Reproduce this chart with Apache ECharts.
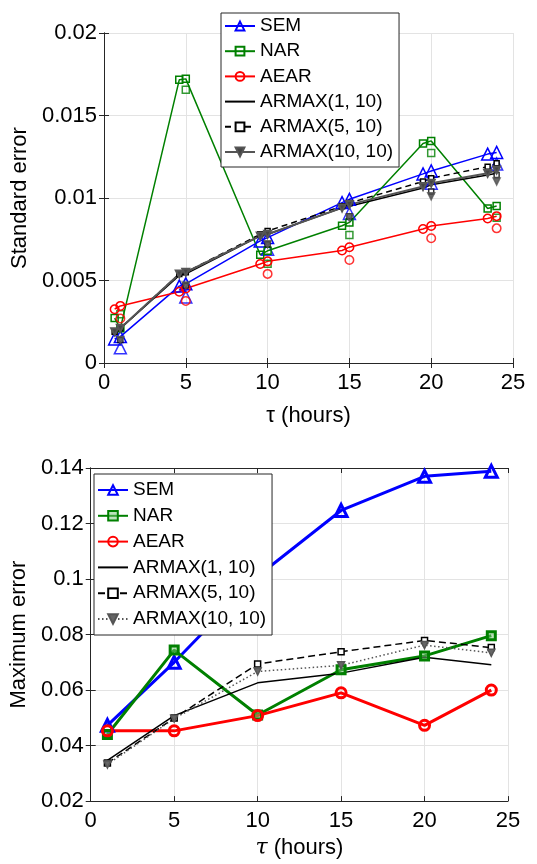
<!DOCTYPE html>
<html>
<head>
<meta charset="utf-8">
<script src="https://cdn.jsdelivr.net/npm/echarts@6/dist/echarts.min.js"></script>
<style>
html,body{margin:0;padding:0;background:#fff;}
#top{position:absolute;left:0;top:0;width:537px;height:432px;}
#bot{position:absolute;left:0;top:432px;width:537px;height:432px;}
</style>
</head>
<body>
<div id="top"></div>
<div id="bot"></div>
<script>
// ---------- DATA ----------
const seriesNames = ['SEM', 'NAR', 'AEAR', 'ARMAX(1, 10)', 'ARMAX(5, 10)', 'ARMAX(10, 10)'];

// Top chart: standard error
const topLineX  = [0.65, 1, 4.6, 5, 9.55, 10, 14.55, 15, 19.5, 20, 23.45, 24];
const topExtraX = [1, 5, 10, 15, 20, 24];
const topSEM      = [0.00146, 0.0016, 0.00466, 0.0048, 0.0074, 0.0076, 0.00972, 0.00992, 0.01146, 0.01164, 0.01266, 0.01276];
const topSEMx     = [0.00092, 0.0040, 0.0069, 0.00906, 0.0109, 0.01206];
const topNAR      = [0.00272, 0.0021, 0.01716, 0.01722, 0.00656, 0.0068, 0.00832, 0.00852, 0.0133, 0.01346, 0.00936, 0.00952];
const topNARx     = [0.00296, 0.01656, 0.00602, 0.00776, 0.01272, 0.0088];
const topAEAR     = [0.00326, 0.00346, 0.00432, 0.00452, 0.0060, 0.00616, 0.00682, 0.00702, 0.00812, 0.0083, 0.00876, 0.0089];
const topAEARx    = [0.0027, 0.00376, 0.0054, 0.00624, 0.00756, 0.00816];
const topARMAX1   = [0.0019, 0.0021, 0.0053, 0.0054, 0.0077, 0.0078, 0.0094, 0.0095, 0.0106, 0.0108, 0.0114, 0.0115];
const topARMAX5   = [0.0019, 0.0021, 0.0054, 0.0055, 0.0078, 0.0080, 0.0095, 0.0097, 0.0110, 0.0112, 0.0119, 0.0121];
const topARMAX5x  = [0.0014, 0.0047, 0.0072, 0.0089, 0.0104, 0.0114];
const topARMAX10  = [0.0019, 0.0021, 0.0054, 0.0055, 0.0077, 0.0078, 0.0094, 0.0096, 0.0107, 0.0109, 0.0115, 0.0117];
const topARMAX10x = [0.0014, 0.0047, 0.0072, 0.0088, 0.0101, 0.0110];
const topXTicks = [0, 5, 10, 15, 20, 25];
const topYTicks = [0, 0.005, 0.01, 0.015, 0.02];

// Bottom chart: maximum error
const botX = [1, 5, 10, 15, 20, 24];
const botSEM     = [0.0473, 0.0700, 0.1010, 0.1247, 0.1370, 0.1388];
const botNAR     = [0.0440, 0.0744, 0.0510, 0.0673, 0.0723, 0.0796];
const botAEAR    = [0.0453, 0.0453, 0.0508, 0.0590, 0.0473, 0.0600];
const botARMAX1  = [0.0347, 0.0508, 0.0626, 0.0661, 0.0718, 0.0691];
const botARMAX5  = [0.0337, 0.0499, 0.0694, 0.0738, 0.0779, 0.0753];
const botARMAX10 = [0.0332, 0.0497, 0.0667, 0.0689, 0.0762, 0.0734];
const botXTicks = [0, 5, 10, 15, 20, 25];
const botYTicks = [0.02, 0.04, 0.06, 0.08, 0.1, 0.12, 0.14];

// ---------- HELPERS ----------
const FONT = '"Liberation Sans", Arial, Helvetica, sans-serif';
const zip = (xs, ys) => xs.map((x, i) => [x, ys[i]]);
const fmt = v => String(+(+v).toFixed(4));
const AX = '#262626';
const CLEAR = 'rgba(255,255,255,0)';

function axes(xt, yt, xName, yName, xGap, yGap, xRich) {
  const xi = xt[1] - xt[0], yi = +(yt[1] - yt[0]).toFixed(6);
  const common = {
    type: 'value',
    axisLine: { show: true, lineStyle: { color: AX, width: 1 } },
    axisTick: { show: true, inside: true, length: 5, lineStyle: { color: AX } },
    axisLabel: { fontSize: 22, color: '#000', fontFamily: FONT, formatter: fmt },
    splitLine: { show: true, lineStyle: { color: '#e3e3e3', width: 1 } }
  };
  const xAxis = [
    Object.assign({}, common, {
      min: xt[0], max: xt[xt.length - 1], interval: xi,
      axisLabel: Object.assign({}, common.axisLabel, { margin: 9 }),
      name: xName, nameLocation: 'middle', nameGap: xGap,
      nameTextStyle: { fontSize: 22, color: '#000', fontFamily: FONT, rich: xRich }
    }),
    Object.assign({}, common, {
      position: 'top', min: xt[0], max: xt[xt.length - 1], interval: xi,
      axisLabel: { show: false }, splitLine: { show: false }
    })
  ];
  const yAxis = [
    Object.assign({}, common, {
      min: yt[0], max: yt[yt.length - 1], interval: yi,
      axisLabel: Object.assign({}, common.axisLabel, { margin: 7 }),
      name: yName, nameLocation: 'middle', nameGap: yGap,
      nameTextStyle: { fontSize: 22, color: '#000', fontFamily: FONT }
    }),
    Object.assign({}, common, {
      position: 'right', min: yt[0], max: yt[yt.length - 1], interval: yi,
      axisLabel: { show: false }, splitLine: { show: false }
    })
  ];
  return { xAxis, yAxis };
}

function legend(left, top, padding, gap, itemH) {
  return {
    data: seriesNames, orient: 'vertical', left: left, top: top,
    backgroundColor: '#fff', borderColor: AX, borderWidth: 1,
    padding: padding, itemWidth: 30, itemHeight: itemH, itemGap: gap,
    textStyle: { fontSize: 19, color: '#000', fontFamily: FONT, lineHeight: 20 },
    z: 20, selectedMode: false
  };
}

const BLUE = '#0000ff', GREEN = '#008000', RED = '#ff0000', BLACK = '#000000', GRAY = '#555555';
function lineS(name, data, color, width, symbol, size, fill, opts) {
  return Object.assign({
    name, type: 'line', data, symbol, symbolSize: size, showAllSymbol: true,
    lineStyle: { color, width },
    itemStyle: { color: fill, borderColor: color, borderWidth: width },
    emphasis: { disabled: true }, animation: false, z: 3
  }, opts || {});
}
function scatS(name, data, color, width, symbol, size, fill, opts) {
  return Object.assign({
    name, type: 'scatter', data, symbol, symbolSize: size,
    itemStyle: { color: fill, borderColor: color, borderWidth: width },
    emphasis: { disabled: true }, animation: false, z: 3
  }, opts || {});
}
const noMarker = { itemStyle: { color: CLEAR, borderColor: CLEAR, borderWidth: 0 } };

// ---------- TOP CHART ----------
const topAx = axes(topXTicks, topYTicks, 'τ (hours)', 'Standard error', 42, 53);
const topOpt = {
  animation: false,
  textStyle: { fontFamily: FONT },
  grid: { left: 104, top: 33, width: 409, height: 333 },
  legend: legend(221, 13, [3, 6, 5, 3], 5.2, 11),
  xAxis: topAx.xAxis, yAxis: topAx.yAxis,
  series: [
    lineS('SEM', zip(topLineX, topSEM), BLUE, 1.5, 'triangle', 12, CLEAR),
    scatS('SEM', zip(topExtraX, topSEMx), BLUE, 1.5, 'triangle', 12, CLEAR),
    lineS('NAR', zip(topLineX, topNAR), GREEN, 1.5, 'rect', 7, CLEAR),
    scatS('NAR', zip(topExtraX, topNARx), GREEN, 1.5, 'rect', 7, CLEAR),
    lineS('AEAR', zip(topLineX, topAEAR), RED, 1.5, 'circle', 8.5, CLEAR),
    scatS('AEAR', zip(topExtraX, topAEARx), RED, 1.5, 'circle', 8.5, CLEAR),
    lineS('ARMAX(1, 10)', zip(topLineX, topARMAX1), BLACK, 1.5, 'none', 0, BLACK, noMarker),
    lineS('ARMAX(5, 10)', zip(topLineX, topARMAX5), BLACK, 1.5, 'rect', 5, '#fff', { lineStyle: { color: BLACK, width: 1.5, type: [6, 4] } }),
    scatS('ARMAX(5, 10)', zip(topExtraX, topARMAX5x), BLACK, 1.5, 'rect', 5, '#fff'),
    lineS('ARMAX(10, 10)', zip(topLineX, topARMAX10), GRAY, 2, 'triangle', 7, '#444', { symbolRotate: 180 }),
    scatS('ARMAX(10, 10)', zip(topExtraX, topARMAX10x), GRAY, 1.5, 'triangle', 7, '#444', { symbolRotate: 180 })
  ]
};

// ---------- BOTTOM CHART ----------
const botAx = axes(botXTicks, botYTicks, '{i|τ} (hours)', 'Maximum error', 33, 56,
  { i: { fontStyle: 'italic', fontSize: 22, fontFamily: '"DejaVu Serif", serif', color: '#000' } });
const botOpt = {
  animation: false,
  textStyle: { fontFamily: FONT },
  grid: { left: 85, top: 36, width: 423, height: 339 },
  legend: legend(94, 42, [6, 6, 6, 3], 5.8, 12),
  xAxis: botAx.xAxis, yAxis: botAx.yAxis,
  series: [
    lineS('SEM', zip(botX, botSEM), BLUE, 3, 'triangle', 12, CLEAR),
    lineS('NAR', zip(botX, botNAR), GREEN, 3, 'rect', 8, 'rgba(120,200,120,0.5)'),
    lineS('AEAR', zip(botX, botAEAR), RED, 3, 'circle', 10, CLEAR),
    lineS('ARMAX(1, 10)', zip(botX, botARMAX1), BLACK, 1.5, 'none', 0, BLACK, noMarker),
    lineS('ARMAX(5, 10)', zip(botX, botARMAX5), BLACK, 1.5, 'rect', 6, '#fff', { lineStyle: { color: BLACK, width: 1.5, type: [7, 4] } }),
    lineS('ARMAX(10, 10)', zip(botX, botARMAX10), GRAY, 1.5, 'triangle', 7, '#666', { symbolRotate: 180, lineStyle: { color: GRAY, width: 1.5, type: [1.5, 2.5] } })
  ]
};

echarts.init(document.getElementById('top'), null, { renderer: 'canvas' }).setOption(topOpt);
echarts.init(document.getElementById('bot'), null, { renderer: 'canvas' }).setOption(botOpt);
</script>
</body>
</html>
